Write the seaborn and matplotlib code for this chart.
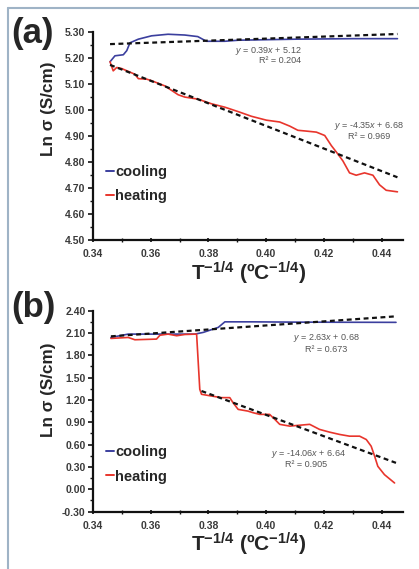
import numpy as np
import pandas as pd
import matplotlib
matplotlib.use("Agg")
import matplotlib.pyplot as plt
import seaborn as sns
from matplotlib import font_manager
from matplotlib.lines import Line2D
from matplotlib.ticker import MultipleLocator, FormatStrFormatter

# panel (a) data
a_cool_x = [0.3459, 0.3476, 0.3505, 0.3517, 0.3528, 0.3557, 0.3603, 0.3660, 0.3718, 0.3763,
            0.3793, 0.3857, 0.3903, 0.4000, 0.4100, 0.4200, 0.4300, 0.4400, 0.4455]
a_cool_y = [5.187, 5.210, 5.214, 5.230, 5.260, 5.274, 5.287, 5.293, 5.290, 5.284,
            5.266, 5.266, 5.270, 5.272, 5.274, 5.275, 5.276, 5.276, 5.276]
a_heat_x = [0.3459, 0.3470, 0.3482, 0.3499, 0.3545, 0.3557, 0.3586, 0.3603, 0.3649, 0.3695,
            0.3718, 0.3764, 0.3811, 0.3857, 0.3903, 0.3949, 0.4001, 0.4047, 0.4082, 0.4110,
            0.4139, 0.4174, 0.4203, 0.4226, 0.4249, 0.4266, 0.4289, 0.4312, 0.4341, 0.4370,
            0.4393, 0.4416, 0.4455]
a_heat_y = [5.187, 5.152, 5.165, 5.161, 5.139, 5.122, 5.120, 5.114, 5.094, 5.060,
            5.051, 5.043, 5.025, 5.012, 4.995, 4.977, 4.962, 4.955, 4.939, 4.923,
            4.920, 4.916, 4.903, 4.864, 4.831, 4.805, 4.759, 4.750, 4.759, 4.750,
            4.713, 4.692, 4.686]
a_fit_cool_x = [0.3459, 0.4455]
a_fit_cool_y = [5.255, 5.294]
a_fit_heat_x = [0.3459, 0.4455]
a_fit_heat_y = [5.175, 4.742]

# panel (b) data
b_cool_x = [0.3462, 0.3522, 0.3626, 0.3753, 0.3782, 0.3817, 0.3834, 0.3857, 0.3949, 0.4100,
            0.4300, 0.4450]
b_cool_y = [2.040, 2.085, 2.085, 2.085, 2.108, 2.153, 2.175, 2.250, 2.250, 2.246,
            2.244, 2.243]
b_heat_x = [0.3462, 0.3522, 0.3545, 0.3620, 0.3632, 0.3660, 0.3690, 0.3718, 0.3759, 0.3770,
            0.3776, 0.3810, 0.3845, 0.3874, 0.3885, 0.3903, 0.3937, 0.3955, 0.3978, 0.4012,
            0.4030, 0.4047, 0.4082, 0.4110, 0.4151, 0.4185, 0.4220, 0.4255, 0.4289, 0.4324,
            0.4347, 0.4364, 0.4376, 0.4387, 0.4410, 0.4445]
b_heat_y = [2.027, 2.040, 2.009, 2.018, 2.070, 2.085, 2.063, 2.080, 2.085, 1.343,
            1.276, 1.253, 1.231, 1.231, 1.164, 1.073, 1.050, 1.028, 1.006, 1.006,
            0.939, 0.872, 0.848, 0.858, 0.872, 0.804, 0.767, 0.736, 0.713, 0.713,
            0.668, 0.578, 0.443, 0.308, 0.196, 0.084]
b_fit_cool_x = [0.3462, 0.4450]
b_fit_cool_y = [2.055, 2.324]
b_fit_heat_x = [0.3776, 0.4450]
b_fit_heat_y = [1.320, 0.354]

sns.set_style("ticks")
plt.rcParams['font.family'] = ['Liberation Sans', 'DejaVu Sans']
plt.rcParams['mathtext.fontset'] = 'custom'
plt.rcParams['mathtext.rm'] = 'Liberation Sans'
plt.rcParams['mathtext.it'] = 'Liberation Sans:italic'
plt.rcParams['mathtext.bf'] = 'Liberation Sans:bold'

# y label is squeezed in the original, use the narrow face if it is there
names = {f.name for f in font_manager.fontManager.ttflist}
if 'Liberation Sans Narrow' in names:
    ylab_font, ylab_size = 'Liberation Sans Narrow', 13.5
else:
    ylab_font, ylab_size = 'Liberation Sans', 12.3

BLUE = '#3b3f9e'
RED = '#e8352c'

fig = plt.figure(figsize=(4.19, 5.69), dpi=100)
fig.patch.set_facecolor('white')

# frame lines at top and left
fig.add_artist(Line2D([0.019, 0.019], [0, 0.986], transform=fig.transFigure, color='#9fb3c6', lw=1.5))
fig.add_artist(Line2D([0.019, 1.0], [0.986, 0.986], transform=fig.transFigure, color='#9fb3c6', lw=1.5))

ax_a = fig.add_axes([0.222, 0.578, 0.741, 0.365])
ax_b = fig.add_axes([0.222, 0.101, 0.741, 0.353])


def draw_panel(ax, cx, cy, hx, hy, fcx, fcy, fhx, fhy):
    sns.lineplot(x=cx, y=cy, ax=ax, color=BLUE, lw=1.2, label='cooling', estimator=None, sort=False)
    sns.lineplot(x=hx, y=hy, ax=ax, color=RED, lw=1.2, label='heating', estimator=None, sort=False)
    ax.plot(fcx, fcy, color='#111111', lw=1.6, ls=(0, (2.2, 1.6)))
    ax.plot(fhx, fhy, color='#111111', lw=1.6, ls=(0, (2.2, 1.6)))


def style_axis(ax, ylim, ystep, ylab_y):
    ax.set_xlim(0.34, 0.4476)
    ax.set_ylim(*ylim)
    ax.xaxis.set_major_locator(MultipleLocator(0.02))
    ax.xaxis.set_minor_locator(MultipleLocator(0.01))
    ax.yaxis.set_major_locator(MultipleLocator(ystep))
    ax.yaxis.set_minor_locator(MultipleLocator(ystep / 2))
    ax.xaxis.set_major_formatter(FormatStrFormatter('%.2f'))
    ax.yaxis.set_major_formatter(FormatStrFormatter('%.2f'))
    for s in ['top', 'right']:
        ax.spines[s].set_visible(False)
    for s in ['left', 'bottom']:
        ax.spines[s].set_linewidth(1.6)
        ax.spines[s].set_color('#111111')
    ax.tick_params(axis='both', which='major', labelsize=7.5, colors='#111111',
                   labelcolor='#3a3a3a', width=1.2, length=3.5, pad=2)
    ax.tick_params(axis='both', which='minor', width=1.0, length=2.5, colors='#111111')
    ax.tick_params(axis='x', which='both', direction='inout')
    ax.tick_params(axis='x', which='major', pad=5)
    for lab in ax.get_xticklabels() + ax.get_yticklabels():
        lab.set_fontweight('bold')
    ax.set_xlabel(r'T$^{\mathbf{-1/4}}$ (ºC$^{\mathbf{-1/4}}$)', fontsize=15,
                  fontweight='bold', labelpad=0)
    ax.set_ylabel('Ln σ (S/cm)', fontsize=ylab_size, fontweight='bold',
                  family=[ylab_font, 'DejaVu Sans'])
    ax.yaxis.set_label_coords(-0.118, ylab_y)
    leg = ax.legend(loc='upper left', frameon=False, handlelength=0.55, handletextpad=0.05,
                    labelspacing=0.7, prop={'weight': 'bold', 'size': 10.5})
    for h in leg.get_lines():
        h.set_linewidth(1.4)
    return leg


draw_panel(ax_a, a_cool_x, a_cool_y, a_heat_x, a_heat_y,
           a_fit_cool_x, a_fit_cool_y, a_fit_heat_x, a_fit_heat_y)
leg = style_axis(ax_a, (4.50, 5.30), 0.10, 0.631)
leg.set_bbox_to_anchor((0.0, 0.425), transform=ax_a.transAxes)

draw_panel(ax_b, b_cool_x, b_cool_y, b_heat_x, b_heat_y,
           b_fit_cool_x, b_fit_cool_y, b_fit_heat_x, b_fit_heat_y)
leg = style_axis(ax_b, (-0.30, 2.40), 0.30, 0.608)
leg.set_bbox_to_anchor((0.0, 0.395), transform=ax_b.transAxes)

eq_kw = dict(fontsize=6.5, color='#555555', ha='center', va='center')
ax_a.text(0.4008, 5.230, r'$\it{y}$ = 0.39$\it{x}$ + 5.12', **eq_kw)
ax_a.text(0.4047, 5.191, 'R² = 0.204', **eq_kw)
ax_a.text(0.4357, 4.940, r'$\it{y}$ = -4.35$\it{x}$ + 6.68', **eq_kw)
ax_a.text(0.4358, 4.900, 'R² = 0.969', **eq_kw)
ax_b.text(0.4209, 2.032, r'$\it{y}$ = 2.63$\it{x}$ + 0.68', **eq_kw)
ax_b.text(0.4209, 1.883, 'R² = 0.673', **eq_kw)
ax_b.text(0.4147, 0.475, r'$\it{y}$ = -14.06$\it{x}$ + 6.64', **eq_kw)
ax_b.text(0.4139, 0.331, 'R² = 0.905', **eq_kw)

fig.text(0.028, 0.941, '(a)', fontsize=25, fontweight='bold', va='center', ha='left')
fig.text(0.028, 0.460, '(b)', fontsize=25, fontweight='bold', va='center', ha='left')

fig.savefig('out.png', dpi=100, facecolor='white')
